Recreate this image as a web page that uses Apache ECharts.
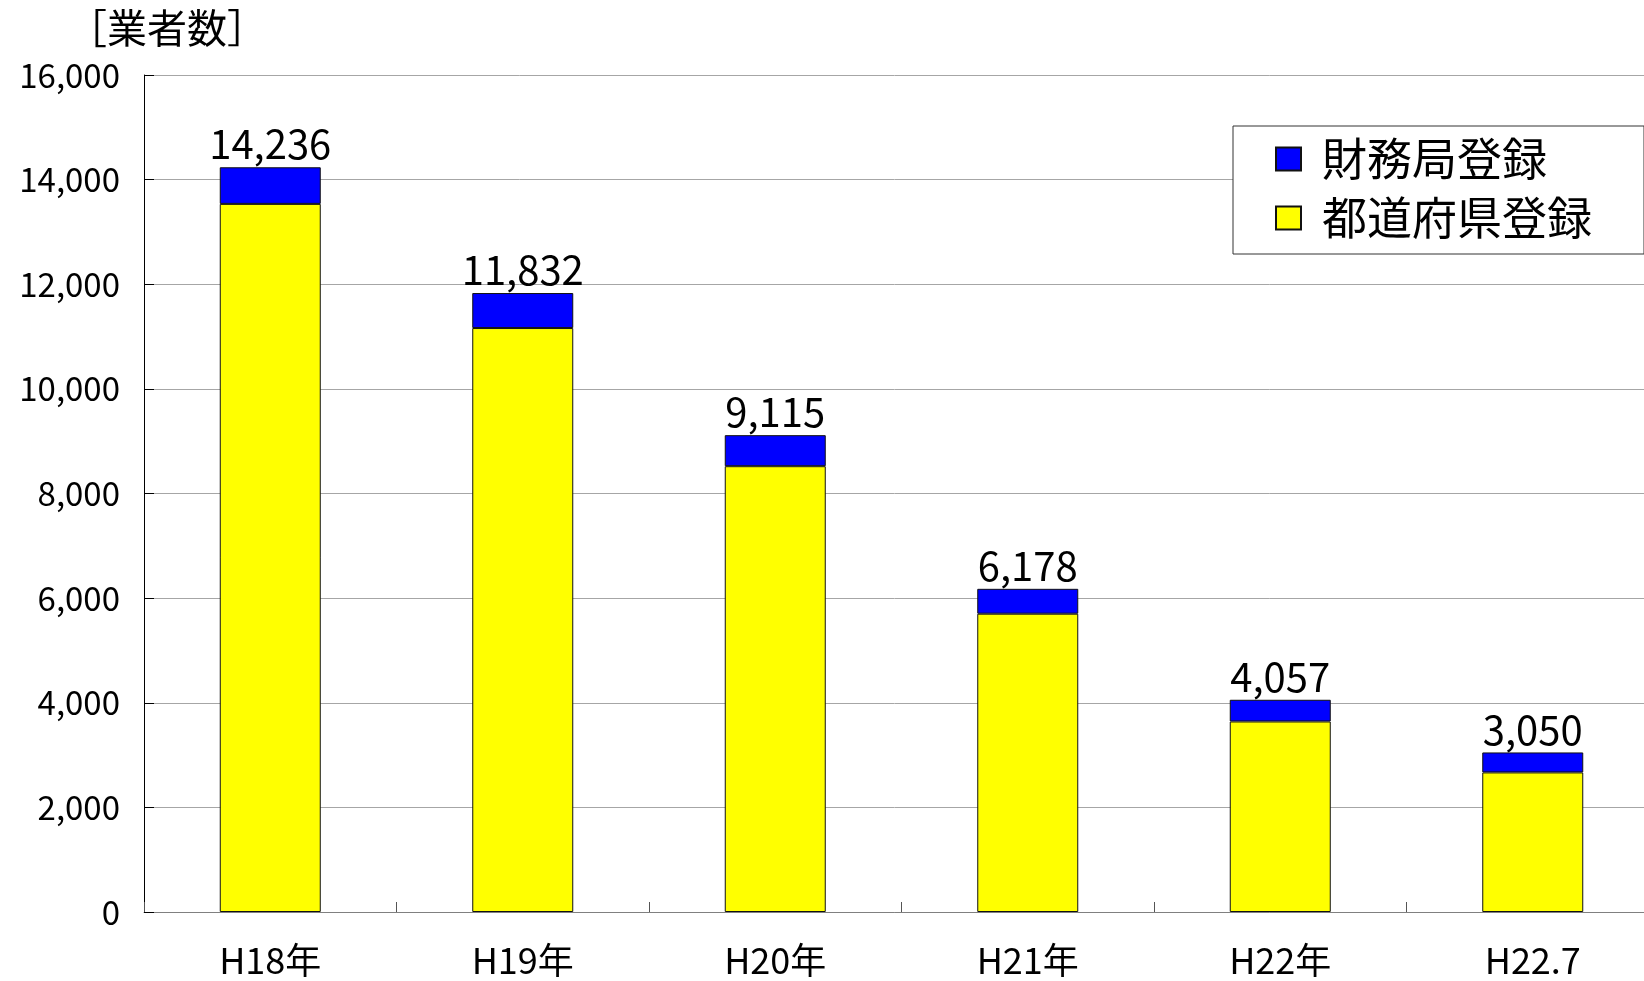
<!DOCTYPE html>
<html>
<head>
<meta charset="utf-8">
<script src="https://cdn.jsdelivr.net/npm/echarts@6/dist/echarts.min.js"></script>
<style>
html,body{margin:0;padding:0;background:#fff;}
#chart{width:1644px;height:981px;}
</style>
</head>
<body>
<div id="chart"></div>
<script>
const categories = ['H18年', 'H19年', 'H20年', 'H21年', 'H22年', 'H22.7'];
const prefectureReg = [13536, 11163, 8522, 5702, 3642, 2668];
const bureauReg = [700, 669, 593, 476, 415, 382];
const totals = [14236, 11832, 9115, 6178, 4057, 3050];
const yTicks = [0, 2000, 4000, 6000, 8000, 10000, 12000, 14000, 16000];

const FONT = '"Noto Sans CJK JP", "Noto Sans", sans-serif';
const chart = echarts.init(document.getElementById('chart'));
const fmt = v => v.toString().replace(/\B(?=(\d{3})+(?!\d))/g, ',');

chart.setOption({
  animation: false,
  backgroundColor: '#ffffff',
  textStyle: { fontFamily: FONT },
  title: {
    text: '［業者数］',
    left: 62,
    top: 3,
    textStyle: { fontFamily: FONT, fontSize: 40, fontWeight: 'normal', color: '#000' }
  },
  legend: {
    data: ['財務局登録', '都道府県登録'],
    orient: 'vertical',
    left: 1233,
    top: 126,
    padding: [10, 52, 13, 42],
    itemWidth: 25,
    itemHeight: 23,
    itemGap: 13,
    icon: 'rect',
    borderColor: '#333',
    borderWidth: 1,
    backgroundColor: '#fff',
    textStyle: { fontFamily: FONT, fontSize: 45, color: '#000', lineHeight: 46, padding: [0, 0, 0, 16] }
  },
  grid: { left: 144, top: 75, right: -15, bottom: 69, containLabel: false, outerBoundsMode: 'none' },
  xAxis: {
    type: 'category',
    data: categories,
    axisLine: { lineStyle: { color: '#808080', width: 1 } },
    axisTick: { show: true, inside: true, length: 10, lineStyle: { color: '#555' } },
    axisLabel: { fontFamily: FONT, fontSize: 36, color: '#000', margin: 30 }
  },
  yAxis: {
    type: 'value',
    min: 0,
    max: 16000,
    interval: 2000,
    axisLine: { show: true, lineStyle: { color: '#000', width: 1 } },
    axisTick: { show: true, inside: true, length: 10, lineStyle: { color: '#000' } },
    splitLine: { show: true, lineStyle: { color: '#a6a6a6', width: 1 } },
    axisLabel: {
      fontFamily: FONT, fontSize: 33, color: '#000', margin: 24,
      formatter: v => yTicks.includes(v) ? fmt(v) : ''
    }
  },
  series: [
    {
      name: '都道府県登録',
      type: 'bar',
      stack: 'total',
      barWidth: 101,
      data: prefectureReg,
      itemStyle: { color: '#ffff00', borderColor: '#111', borderWidth: 1 }
    },
    {
      name: '財務局登録',
      type: 'bar',
      stack: 'total',
      barWidth: 101,
      data: bureauReg,
      itemStyle: { color: '#0000ff', borderColor: '#111', borderWidth: 1 },
      label: {
        show: true,
        position: 'top',
        distance: 3,
        fontFamily: FONT,
        fontSize: 40,
        color: '#000',
        formatter: p => fmt(totals[p.dataIndex])
      }
    }
  ]
});
</script>
</body>
</html>
